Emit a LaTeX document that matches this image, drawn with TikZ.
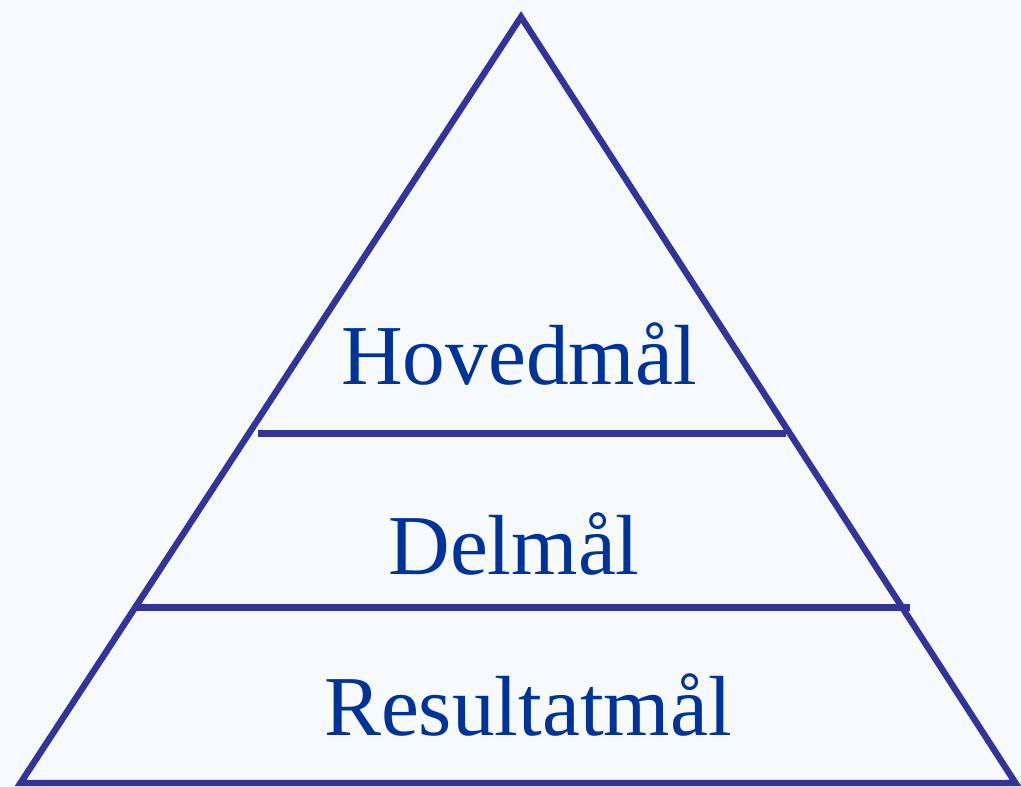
\documentclass[tikz,border=0pt]{standalone}
\usepackage{fontspec}
\setmainfont{Liberation Serif}
\usepackage{xcolor}
\usepackage{tikz}

\definecolor{pyrline}{RGB}{51,51,153}
\definecolor{pyrtext}{RGB}{0,51,153}
\definecolor{pyrbg}{RGB}{247,250,253}

\begin{document}
\begin{tikzpicture}[x=0.75pt,y=-0.75pt,line width=4.8pt,
                    level text/.style={text=pyrtext,anchor=base,inner sep=0pt,
                                       font=\fontsize{64}{64}\selectfont},
                    level line/.style={draw=pyrline,line cap=butt}]

    \fill[pyrbg] (0,0) rectangle (1021,787);
    \useasboundingbox (0,0) rectangle (1021,787);

    \coordinate (top) at (521,17);
    \coordinate (left) at (20.5,783);
    \coordinate (right) at (1015.5,783);

    % the pyramid and its two cuts
    \draw[level line,line join=miter] (top) -- (left) -- (right) -- cycle;
    \coordinate (cut1 l) at (258,433.5);
    \coordinate (cut1 r) at (786,433.5);
    \coordinate (cut2 l) at (133,607.5);
    \coordinate (cut2 r) at (910,607.5);
    \draw[level line] (cut1 l) -- (cut1 r);
    \draw[level line] (cut2 l) -- (cut2 r);

    \node[level text] (hoved) at (519,385) {Hovedmål};
    \node[level text] (del) at (514,575) {Delmål};
    \node[level text] (resultat) at (528,735) {Resultatmål};
\end{tikzpicture}
\end{document}
